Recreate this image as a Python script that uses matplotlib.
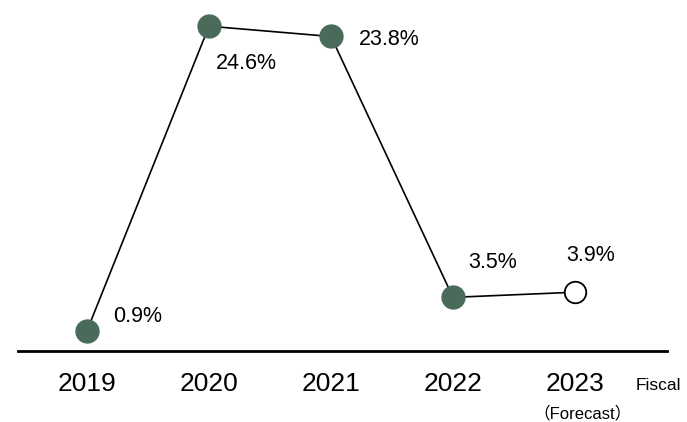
import matplotlib.pyplot as plt

plt.rcParams['font.family'] = ['Liberation Sans', 'Noto Sans CJK JP']

years = ['2019', '2020', '2021', '2022', '2023']
growth = [0.9, 24.6, 23.8, 3.5, 3.9]
forecast = [False, False, False, False, True]
# label offsets in pixels from each point
label_offsets = [(51, 14), (37, -37), (58, -3), (40, 35), (16, 37)]

green = '#4a6b5a'

fig = plt.figure(figsize=(6.87, 4.22), dpi=100)
ax = fig.add_axes([0, 0, 1, 1])
ax.set_xlim(-0.713, 4.918)
ax.set_ylim(-6.20, 26.64)
ax.axis('off')

x = list(range(len(years)))
ax.plot(x, growth, color='black', lw=1.2, zorder=2)
for xi, v, fc in zip(x, growth, forecast):
    if fc:
        ax.plot(xi, v, 'o', ms=15.5, mfc='white', mec='black', mew=1.3, zorder=3)
    else:
        ax.plot(xi, v, 'o', ms=16.5, mfc=green, mec=green, zorder=3)

for xi, v, off in zip(x, growth, label_offsets):
    ax.annotate(f'{v}%', (xi, v), xytext=off, textcoords='offset pixels',
                ha='center', va='center', fontsize=15.5)

# baseline
ax.plot([-0.566, 4.754], [-0.68, -0.68], color='black', lw=2)

for xi, yr in zip(x, years):
    ax.text(xi, -3.24, yr, ha='center', va='center', fontsize=19)
ax.text(4.06, -5.55, '（Forecast）', ha='center', va='center', fontsize=12)
ax.text(4.68, -3.33, 'Fiscal', ha='center', va='center', fontsize=12.5)

fig.savefig('out.png', dpi=100)
